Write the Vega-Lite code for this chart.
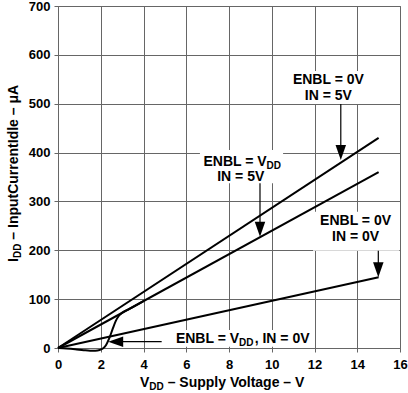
{
  "$schema": "https://vega.github.io/schema/vega-lite/v6.json",
  "width": 342,
  "height": 342,
  "autosize": {"type": "none"},
  "padding": {"left": 58, "top": 6, "right": 8, "bottom": 45},
  "background": "white",
  "config": {
    "font": "Liberation Sans",
    "view": {"stroke": "#666", "strokeWidth": 1},
    "axis": {
      "domain": false, "grid": true, "gridColor": "#666", "gridOpacity": 1, "gridWidth": 1,
      "ticks": true, "tickColor": "#666", "tickSize": 4,
      "labelFont": "Liberation Sans", "labelFontSize": 13, "labelFontWeight": "bold", "labelColor": "black",
      "labelFlush": false, "labelOverlap": false, "title": null
    },
    "axisX": {"labelPadding": 6},
    "axisY": {"labelPadding": 4}
  },
  "datasets": {
    "curves": [
      {"s": "ENBL=0V IN=5V", "x": 0, "y": 0},
      {"s": "ENBL=0V IN=5V", "x": 15, "y": 430},
      {"s": "ENBL=VDD IN=5V", "x": 0, "y": 0},
      {"s": "ENBL=VDD IN=5V", "x": 15, "y": 360},
      {"s": "ENBL=0V IN=0V", "x": 0, "y": 0},
      {"s": "ENBL=0V IN=0V", "x": 15, "y": 145},
      {"s": "ENBL=VDD IN=0V", "x": 0, "y": 0},
      {"s": "ENBL=VDD IN=0V", "x": 0.4, "y": -1},
      {"s": "ENBL=VDD IN=0V", "x": 0.8, "y": -2.5},
      {"s": "ENBL=VDD IN=0V", "x": 1.2, "y": -4.5},
      {"s": "ENBL=VDD IN=0V", "x": 1.5, "y": -5.5},
      {"s": "ENBL=VDD IN=0V", "x": 1.75, "y": -5.5},
      {"s": "ENBL=VDD IN=0V", "x": 1.95, "y": -4},
      {"s": "ENBL=VDD IN=0V", "x": 2.1, "y": -1},
      {"s": "ENBL=VDD IN=0V", "x": 2.25, "y": 6},
      {"s": "ENBL=VDD IN=0V", "x": 2.4, "y": 20},
      {"s": "ENBL=VDD IN=0V", "x": 2.55, "y": 38},
      {"s": "ENBL=VDD IN=0V", "x": 2.7, "y": 55},
      {"s": "ENBL=VDD IN=0V", "x": 2.85, "y": 66},
      {"s": "ENBL=VDD IN=0V", "x": 3.0, "y": 72},
      {"s": "ENBL=VDD IN=0V", "x": 3.3, "y": 79},
      {"s": "ENBL=VDD IN=0V", "x": 4.0, "y": 96}
    ],
    "boxes": [
      {"x": 10.71, "x2": 14.6, "y": 499.4, "y2": 567},
      {"x": 6.64, "x2": 10.53, "y": 337.1, "y2": 405.3},
      {"x": 11.93, "x2": 15.97, "y": 199.2, "y2": 279},
      {"x": 5.09, "x2": 11.87, "y": 2.7, "y2": 36.8}
    ],
    "shafts": [
      {"x": 13.23, "x2": 13.23, "y": 499.4, "y2": 400},
      {"x": 9.45, "x2": 9.45, "y": 337.1, "y2": 243},
      {"x": 14.985, "x2": 14.985, "y": 199.2, "y2": 160},
      {"x": 4.85, "x2": 2.7, "y": 12.9, "y2": 12.9}
    ],
    "heads": [
      {"x": 13.23, "y": 400.1, "dir": "down"},
      {"x": 9.45, "y": 243.2, "dir": "down"},
      {"x": 14.985, "y": 160, "dir": "down"},
      {"x": 2.7, "y": 12.9, "dir": "left"}
    ],
    "textCenter": [
      {"x": 12.65, "y": 539.5, "text": "ENBL = 0V"},
      {"x": 12.65, "y": 507.6, "text": "IN = 5V"},
      {"x": 8.55, "y": 341.8, "text": "IN = 5V"},
      {"x": 13.92, "y": 251.8, "text": "ENBL = 0V"},
      {"x": 13.92, "y": 219.6, "text": "IN = 0V"}
    ],
    "textRight": [
      {"x": 9.76, "y": 373.1, "text": "ENBL = V"},
      {"x": 8.47, "y": 9.6, "text": "ENBL = V"},
      {"x": 4.27, "y": -80, "text": "V"}
    ],
    "textLeft": [
      {"x": 9.2, "y": 9.6, "text": ", IN = 0V"},
      {"x": 5.13, "y": -80, "text": "– Supply Voltage – V"}
    ],
    "textSub": [
      {"x": 9.76, "y": 373.1, "text": "DD"},
      {"x": 8.47, "y": 9.6, "text": "DD"},
      {"x": 4.27, "y": -80, "text": "DD"}
    ],
    "yTitleRight": [{"x": -1.85, "y": 184.2, "text": "I"}],
    "yTitleSub": [{"x": -1.85, "y": 184.2, "text": "DD"}],
    "yTitleLeft": [{"x": -1.85, "y": 221.7, "text": "– InputCurrentIdle – μA"}]
  },
  "encoding": {
    "x": {
      "field": "x", "type": "quantitative",
      "scale": {"domain": [0, 16], "nice": false, "zero": false},
      "axis": {"values": [0, 2, 4, 6, 8, 10, 12, 14, 16]}
    },
    "y": {
      "field": "y", "type": "quantitative",
      "scale": {"domain": [0, 700], "nice": false, "zero": false},
      "axis": {"values": [0, 100, 200, 300, 400, 500, 600, 700]}
    }
  },
  "layer": [
    {
      "data": {"name": "boxes"},
      "mark": {"type": "rect", "fill": "white", "strokeWidth": 0},
      "encoding": {"x2": {"field": "x2"}, "y2": {"field": "y2"}}
    },
    {
      "data": {"name": "curves"},
      "mark": {"type": "line", "color": "black", "strokeWidth": 2, "interpolate": "monotone"},
      "encoding": {"detail": {"field": "s", "type": "nominal"}}
    },
    {
      "data": {"name": "shafts"},
      "mark": {"type": "rule", "color": "black", "strokeWidth": 1.2},
      "encoding": {"x2": {"field": "x2"}, "y2": {"field": "y2"}}
    },
    {
      "data": {"name": "heads"},
      "mark": {"type": "point", "filled": true, "color": "black", "opacity": 1, "strokeWidth": 0},
      "encoding": {
        "shape": {
          "field": "dir", "type": "nominal", "legend": null,
          "scale": {"domain": ["down", "left"], "range": ["M-0.7,-1L0.7,-1L0,1Z", "M1,-0.7L1,0.7L-1,0Z"]}
        },
        "size": {"value": 225}
      }
    },
    {
      "data": {"name": "textCenter"},
      "mark": {"type": "text", "align": "center", "baseline": "alphabetic", "font": "Liberation Sans", "fontSize": 14, "fontWeight": "bold", "color": "black"},
      "encoding": {"text": {"field": "text"}}
    },
    {
      "data": {"name": "textRight"},
      "mark": {"type": "text", "align": "right", "baseline": "alphabetic", "font": "Liberation Sans", "fontSize": 14, "fontWeight": "bold", "color": "black"},
      "encoding": {"text": {"field": "text"}}
    },
    {
      "data": {"name": "textLeft"},
      "mark": {"type": "text", "align": "left", "baseline": "alphabetic", "font": "Liberation Sans", "fontSize": 14, "fontWeight": "bold", "color": "black"},
      "encoding": {"text": {"field": "text"}}
    },
    {
      "data": {"name": "textSub"},
      "mark": {"type": "text", "align": "left", "baseline": "alphabetic", "dy": 3, "font": "Liberation Sans", "fontSize": 10, "fontWeight": "bold", "color": "black"},
      "encoding": {"text": {"field": "text"}}
    },
    {
      "data": {"name": "yTitleRight"},
      "mark": {"type": "text", "angle": 270, "align": "right", "baseline": "alphabetic", "font": "Liberation Sans", "fontSize": 14, "fontWeight": "bold", "color": "black"},
      "encoding": {"text": {"field": "text"}}
    },
    {
      "data": {"name": "yTitleSub"},
      "mark": {"type": "text", "angle": 270, "align": "left", "baseline": "alphabetic", "dy": 3, "font": "Liberation Sans", "fontSize": 10, "fontWeight": "bold", "color": "black"},
      "encoding": {"text": {"field": "text"}}
    },
    {
      "data": {"name": "yTitleLeft"},
      "mark": {"type": "text", "angle": 270, "align": "left", "baseline": "alphabetic", "font": "Liberation Sans", "fontSize": 14, "fontWeight": "bold", "color": "black"},
      "encoding": {"text": {"field": "text"}}
    }
  ]
}
